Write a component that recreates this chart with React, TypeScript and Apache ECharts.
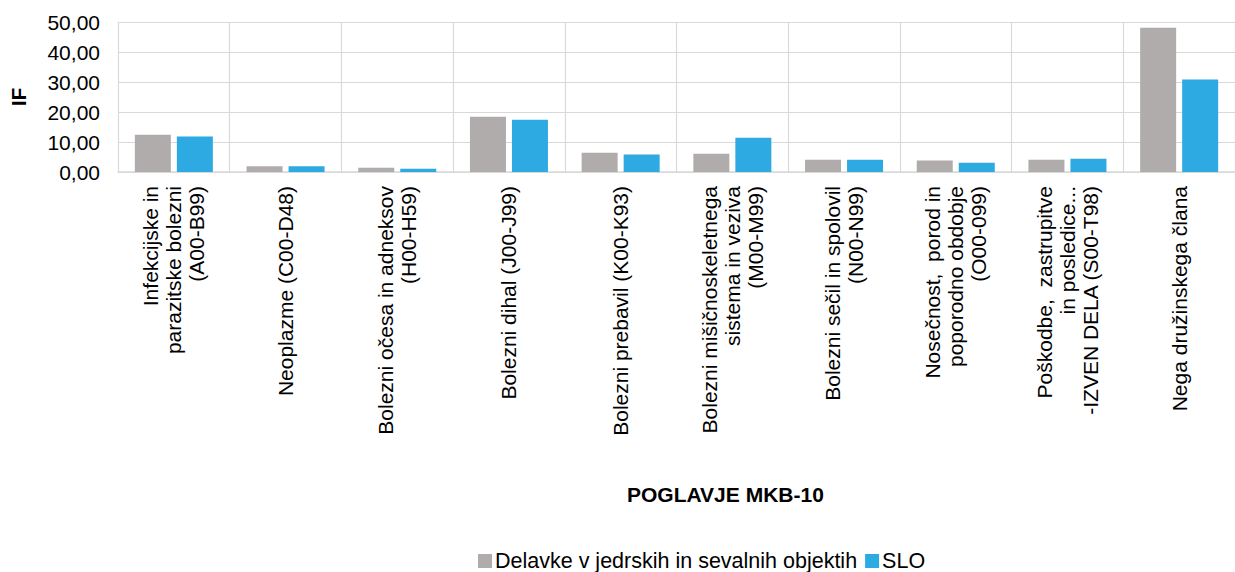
import React, { useEffect, useRef } from "react";
import * as echarts from "echarts";

const categories = [
  "Infekcijske in\nparazitske bolezni\n(A00-B99)",
  "Neoplazme (C00-D48)",
  "Bolezni očesa in adneksov\n(H00-H59)",
  "Bolezni dihal (J00-J99)",
  "Bolezni prebavil (K00-K93)",
  "Bolezni mišičnoskeletnega\nsistema in veziva\n(M00-M99)",
  "Bolezni sečil in spolovil\n(N00-N99)",
  "Nosečnost,  porod in\npoporodno obdobje\n(O00-099)",
  "Poškodbe,  zastrupitve\nin posledice...\n-IZVEN DELA (S00-T98)",
  "Nega družinskega člana",
];

const delavke = [12.4, 1.9, 1.45, 18.4, 6.4, 6.1, 4.1, 3.8, 4.1, 48.1];
const slo = [11.8, 1.9, 1.1, 17.4, 5.8, 11.4, 4.1, 3.1, 4.4, 30.8];

const seriesNames = ["Delavke v jedrskih in sevalnih objektih", "SLO"];
const yAxisName = "IF";
const xAxisName = "POGLAVJE MKB-10";

const FONT = "'Liberation Sans', Arial, Helvetica, sans-serif";
const GRAY = "#B0ACAB";
const BLUE = "#2DAAE1";
const GRID = "#D9D9D9";

export default function App() {
  const ref = useRef<HTMLDivElement>(null);

  useEffect(() => {
    if (!ref.current) return;
    const chart = echarts.init(ref.current, undefined, { renderer: "svg" });
    chart.setOption({
      animation: false,
      textStyle: { fontFamily: FONT },
      grid: { left: 117, right: -1, top: 22, height: 150, containLabel: false },
      graphic: [
        {
          type: "text",
          left: 627,
          top: 484,
          style: {
            text: xAxisName,
            font: `bold 21px ${FONT}`,
            fill: "#000",
          },
        },
      ],
      legend: {
        data: seriesNames,
        left: 473,
        top: 545,
        itemWidth: 14,
        itemHeight: 14,
        itemGap: 8,
        icon: "rect",
        textStyle: { fontSize: 21.5, color: "#000", fontFamily: FONT, padding: [0, 0, 0, -2] },
      },
      xAxis: {
        type: "category",
        data: categories,
        axisLine: { lineStyle: { color: GRID, width: 1.5 } },
        axisTick: { show: false },
        splitLine: { show: true, lineStyle: { color: GRID, width: 1.2 } },
        axisLabel: {
          rotate: 90,
          interval: 0,
          margin: 14,
          fontSize: 21,
          lineHeight: 23,
          color: "#000",
          fontFamily: FONT,
        },
      },
      yAxis: {
        type: "value",
        min: 0,
        max: 50,
        interval: 10,
        name: yAxisName,
        nameLocation: "middle",
        nameGap: 89,
        nameTextStyle: { fontSize: 21, fontWeight: "bold", color: "#000", fontFamily: FONT },
        axisLine: { show: false },
        axisTick: { show: false },
        splitLine: { lineStyle: { color: GRID, width: 1.2 } },
        axisLabel: {
          margin: 18,
          fontSize: 21,
          color: "#000",
          fontFamily: FONT,
          formatter: (v: number) => v.toFixed(2).replace(".", ","),
        },
      },
      series: [
        {
          name: seriesNames[0],
          type: "bar",
          data: delavke,
          barWidth: 36,
          barGap: "16.7%",
          itemStyle: { color: GRAY },
        },
        {
          name: seriesNames[1],
          type: "bar",
          data: slo,
          barWidth: 36,
          barGap: "16.7%",
          itemStyle: { color: BLUE },
        },
      ],
    });
    return () => chart.dispose();
  }, []);

  return (
    <div
      ref={ref}
      style={{ position: "fixed", left: 0, top: 0, width: 1235, height: 572, background: "#fff" }}
    />
  );
}
